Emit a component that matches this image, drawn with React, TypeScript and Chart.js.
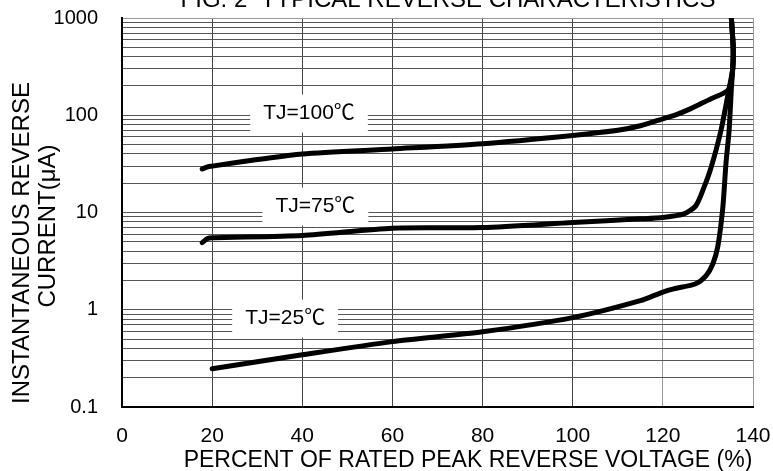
import React, { useEffect, useRef } from "react";
import { Chart, registerables } from "chart.js";

Chart.register(...registerables);

const titleText = "FIG. 2  TYPICAL REVERSE CHARACTERISTICS";
const xTitle = "PERCENT OF RATED PEAK REVERSE VOLTAGE (%)";
const yTitleLines = ["INSTANTANEOUS REVERSE", "CURRENT(\u03bcA)"];

const xMin = 0;
const xMax = 140;
const xStep = 20;
const yMajorTicks = [0.1, 1, 10, 100, 1000];

const tj100X = [17.8, 19, 20, 30, 40, 60, 80, 100, 110, 115, 120, 122.4, 126.2, 130.7, 133.3, 134.7, 135.5, 135.6, 135.2];
const tj100Y = [28, 29.5, 30, 35, 40, 45, 51, 62, 70, 78, 92, 99, 117, 148, 167, 188, 300, 500, 1000];

const tj75X = [17.8, 19, 20, 40, 60, 80, 100, 115, 120, 124.7, 127.3, 129.1, 130.7, 132.9, 134.7, 135.5, 135.6, 135.2];
const tj75Y = [4.9, 5.4, 5.5, 5.8, 6.9, 7.0, 7.9, 8.6, 8.9, 9.7, 11.7, 18, 29, 70, 188, 300, 500, 1000];

const tj25X = [20, 40, 60, 80, 100, 115, 120, 122.4, 127.3, 129.6, 131.1, 132.2, 133.3, 134, 134.7, 135.2, 135.5, 135.6, 135.2];
const tj25Y = [0.247, 0.344, 0.47, 0.594, 0.83, 1.24, 1.52, 1.64, 1.85, 2.24, 2.97, 4.5, 11.2, 31.8, 70, 188, 300, 500, 1000];

const curveLabels = ["TJ=100\u2103", "TJ=75\u2103", "TJ=25\u2103"];
const curveLabelX = [41.5, 42.9, 36.2];
const curveLabelY = [104, 11.5, 0.81];

const FONT = "Arial, 'Liberation Sans', 'Noto Sans CJK SC', sans-serif";

function pts(xs: number[], ys: number[]) {
  return xs.map((x, i) => ({ x, y: ys[i] }));
}

const textPlugin = {
  id: "textPlugin",
  beforeDatasetsDraw(chart: any) {
    const ctx = chart.ctx;
    const xs = chart.scales.x;
    const ys = chart.scales.y;
    ctx.save();
    ctx.font = `21px ${FONT}`;
    ctx.textAlign = "center";
    ctx.textBaseline = "middle";
    curveLabels.forEach((t, i) => {
      const cx = xs.getPixelForValue(curveLabelX[i]);
      const cy = ys.getPixelForValue(curveLabelY[i]);
      const w = ctx.measureText(t).width + 26;
      const h = 38;
      ctx.fillStyle = "#fff";
      ctx.fillRect(cx - w / 2, cy - h / 2, w, h);
      ctx.fillStyle = "#000";
      ctx.fillText(t, cx, cy);
    });
    ctx.restore();
  },
  afterDraw(chart: any) {
    const ctx = chart.ctx;
    ctx.save();
    ctx.fillStyle = "#000";
    ctx.textAlign = "center";
    ctx.textBaseline = "alphabetic";
    ctx.font = `24px ${FONT}`;
    ctx.fillText(titleText, 448, 7);
    ctx.font = `23px ${FONT}`;
    ctx.fillText(xTitle, 468, 467);
    ctx.font = `24px ${FONT}`;
    const centersX = [22, 48];
    const centersY = [243, 226];
    yTitleLines.forEach((t, i) => {
      ctx.save();
      ctx.translate(centersX[i], centersY[i]);
      ctx.rotate(-Math.PI / 2);
      ctx.textBaseline = "middle";
      ctx.fillText(t, 0, 0);
      ctx.restore();
    });
    ctx.restore();
  },
};

export default function App() {
  const ref = useRef<HTMLCanvasElement | null>(null);
  useEffect(() => {
    if (!ref.current) return;
    const lineStyle = {
      borderColor: "#000",
      borderWidth: 5,
      pointRadius: 0,
      tension: 0.25,
      fill: false,
      borderCapStyle: "round",
      borderJoinStyle: "round",
    };
    const chart = new Chart(ref.current, {
      type: "line",
      data: {
        datasets: [
          { label: curveLabels[0], data: pts(tj100X, tj100Y), ...lineStyle },
          { label: curveLabels[1], data: pts(tj75X, tj75Y), ...lineStyle },
          { label: curveLabels[2], data: pts(tj25X, tj25Y), ...lineStyle },
        ] as any,
      },
      options: {
        animation: false,
        responsive: false,
        layout: { padding: { top: 18, right: 20, left: 0, bottom: 0 } },
        plugins: { legend: { display: false }, tooltip: { enabled: false }, title: { display: false } },
        scales: {
          x: {
            type: "linear",
            min: xMin,
            max: xMax,
            ticks: {
              stepSize: xStep,
              color: "#000",
              font: { family: FONT, size: 21 },
              padding: 17,
              maxRotation: 0,
            },
            grid: {
              drawTicks: false,
              color: (c: any) => (c.tick && (c.tick.value === 120 || c.tick.value === 140) ? "#999" : "#444"),
              lineWidth: 1,
            },
            border: { color: "#000", width: 2 },
            afterFit: (s: any) => {
              s.height = 64;
              s.paddingLeft = 0;
              s.paddingRight = 0;
              s.paddingTop = 0;
              s.paddingBottom = 0;
            },
          },
          y: {
            type: "logarithmic",
            min: yMajorTicks[0],
            max: yMajorTicks[yMajorTicks.length - 1],
            afterBuildTicks: (s: any) => {
              const t: any[] = [];
              for (let i = 0; i < yMajorTicks.length; i++) {
                const m = yMajorTicks[i];
                const last = i === yMajorTicks.length - 1;
                for (let k = 1; k <= (last ? 1 : 9); k++) {
                  t.push({ value: Math.round(m * k * 1e6) / 1e6, major: k === 1 });
                }
              }
              s.ticks = t;
            },
            ticks: {
              autoSkip: false,
              color: "#000",
              font: { family: FONT, size: 20 },
              padding: 24,
              callback: (v: any) => (yMajorTicks.includes(Number(v)) ? String(v) : ""),
            },
            grid: {
              drawTicks: false,
              color: (c: any) => (c.tick && c.tick.value === 1000 ? "#999" : "#555"),
              lineWidth: 1,
            },
            border: { color: "#000", width: 2 },
            afterFit: (s: any) => {
              s.width = 122;
              s.paddingLeft = 0;
              s.paddingRight = 0;
              s.paddingTop = 0;
              s.paddingBottom = 0;
            },
          },
        },
      } as any,
      plugins: [textPlugin],
    });
    return () => chart.destroy();
  }, []);
  return (
    <div style={{ position: "fixed", left: 0, top: 0, width: 773, height: 471, background: "#fff" }}>
      <canvas ref={ref} width={773} height={471} style={{ display: "block" }} />
    </div>
  );
}
